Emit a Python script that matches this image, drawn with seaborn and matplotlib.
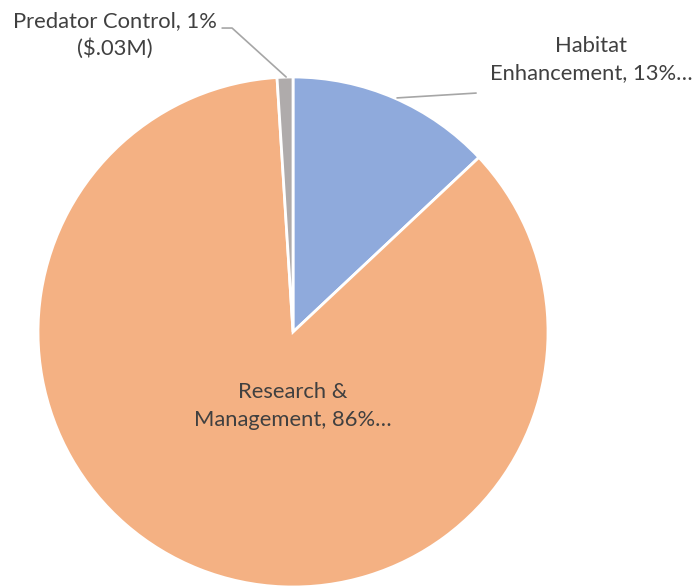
import matplotlib
matplotlib.use("Agg")
import matplotlib.pyplot as plt
import seaborn as sns

# Data
categories = ["Habitat\nEnhancement, 13%…", "Research &\nManagement, 86%…", "Predator Control, 1%\n($.03M)"]
shares = [13, 86, 1]
colors = ["#8FAADC", "#F4B183", "#AFABAB"]

sns.set_style("white")
plt.rcParams['font.family'] = ['Lato', 'DejaVu Sans']

fig = plt.figure(figsize=(6.96, 5.86), dpi=100)
ax = fig.add_axes([0.0546, -0.0017, 0.7328, 0.8703])

wedges, _ = ax.pie(shares, colors=colors, startangle=90, counterclock=False,
                   radius=1, wedgeprops=dict(edgecolor="white", linewidth=2))
ax.set_xlim(-1, 1)
ax.set_ylim(-1, 1)
ax.set_aspect("equal")
ax.axis("off")

txt = dict(ha="center", va="center", fontsize=15.8, color="#404040", linespacing=1.45)

# labels
ax.text(0.0, -0.29, categories[1], **txt)
ax.text(1.169, 1.07, categories[0], **txt)
ax.text(-0.698, 1.165, categories[2], **txt)

# leader lines
ax.plot([0.408, 0.718], [0.918, 0.937], color="#A6A6A6", lw=1.2, clip_on=False)
ax.plot([-0.278, -0.239, -0.027], [1.192, 1.192, 1.0], color="#A6A6A6", lw=1.2, clip_on=False)

fig.savefig("out.png", dpi=100)
